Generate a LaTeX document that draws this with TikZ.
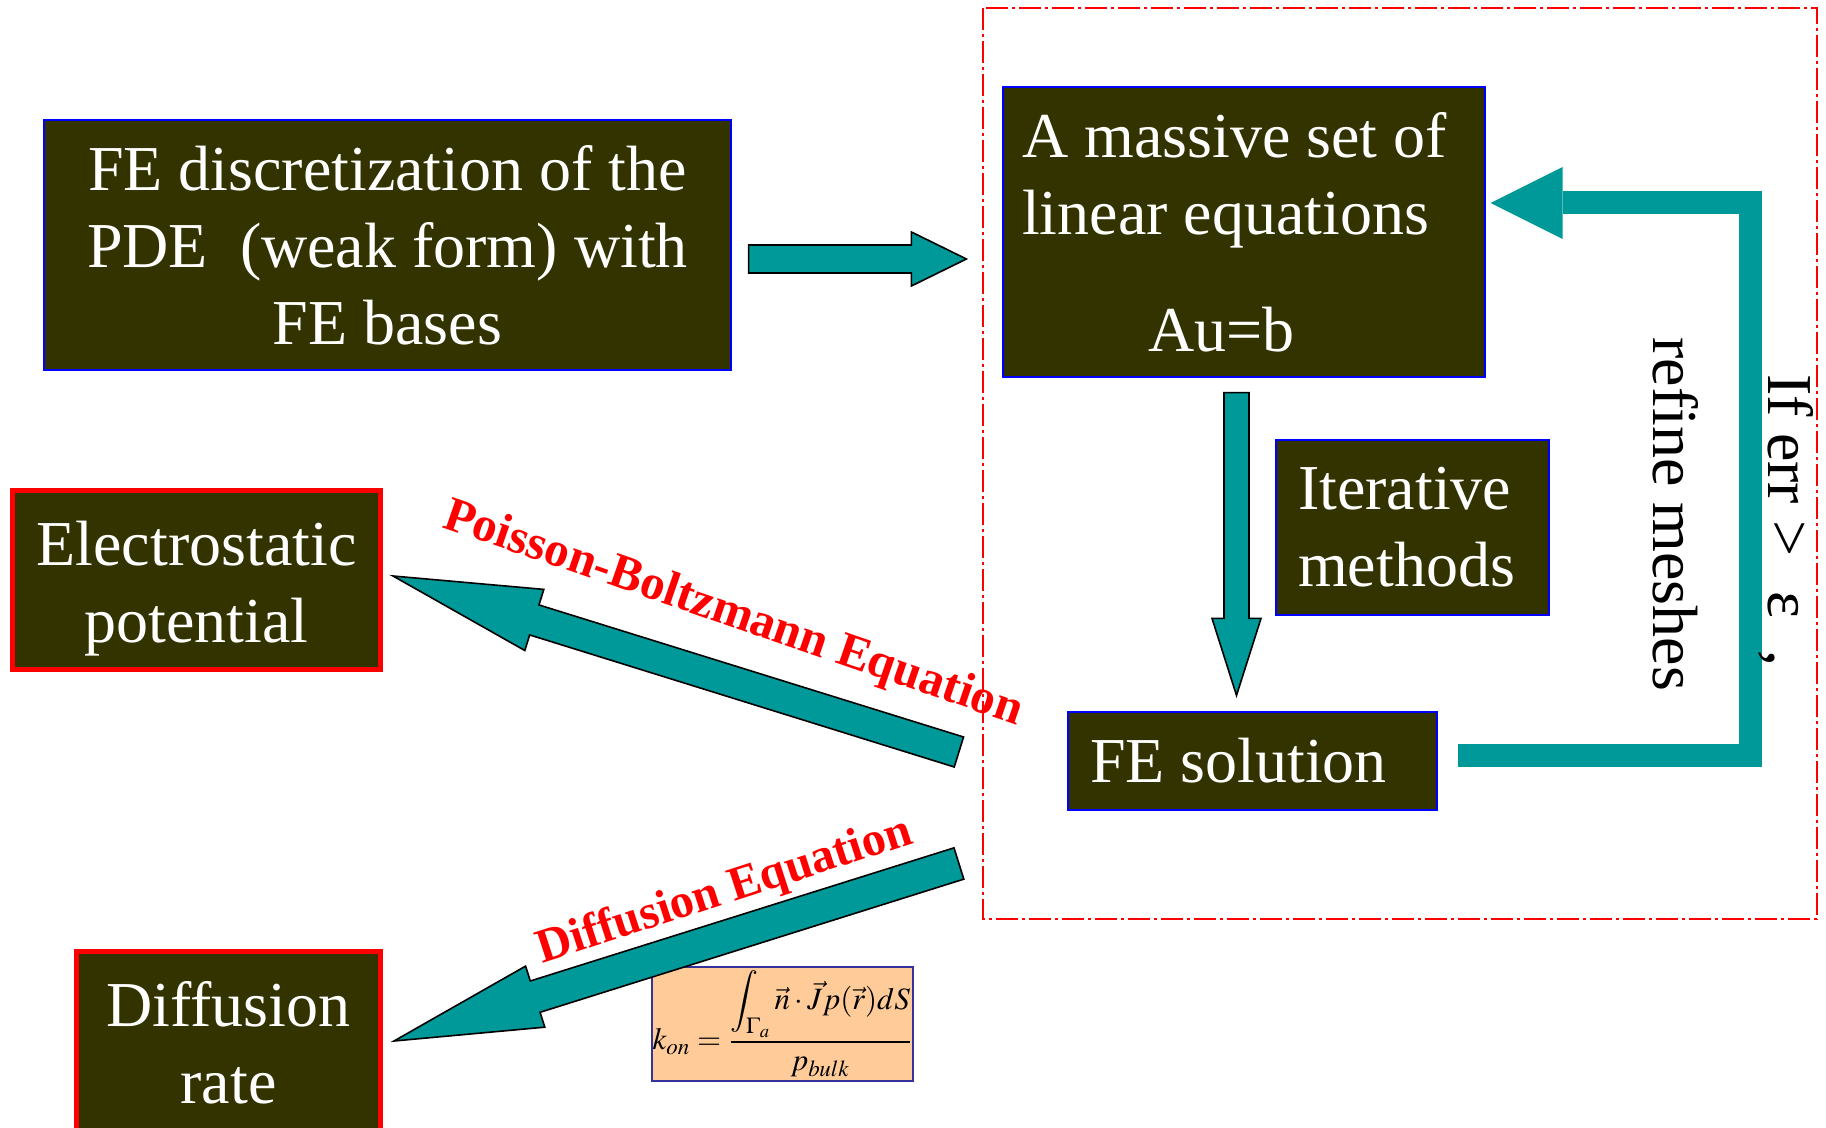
\documentclass[tikz,border=0pt]{standalone}
\usepackage{mathptmx}
\usepackage{fontspec}
\setmainfont{Liberation Serif}
\usetikzlibrary{
  arrows.meta,
  positioning,
  calc
}
\definecolor{feOlive}{HTML}{333300}
\definecolor{feTeal}{HTML}{009999}
\definecolor{feRed}{HTML}{FF0000}
\definecolor{feBlue}{HTML}{0000FF}
\definecolor{fePeach}{HTML}{FFCC99}
\definecolor{feNavy}{HTML}{333399}
\tikzset{
  febox/.style={
    draw=feBlue, line width=0.6pt, fill=feOlive, text=white, inner sep=0pt,
    font=\fontsize{32}{38.5}\selectfont
  },
  resultbox/.style={febox, draw=feRed, line width=2.5pt, align=center},
  formulabox/.style={draw=feNavy, line width=0.8pt, fill=fePeach, inner sep=0pt,
    font=\fontsize{15.5}{18}\selectfont},
  blockarr/.style={fill=feTeal, draw=black, line width=0.8pt, line join=miter},
  loopback/.style={draw=feTeal, line width=11.5pt, line join=miter,
    -{Triangle[length=36pt, width=36pt, line width=0pt]}},
  eqlabel/.style={text=feRed, inner sep=0pt, font=\fontsize{24}{28}\selectfont\bfseries},
  sidenote/.style={inner sep=0pt, rotate=-90, anchor=base west, font=\fontsize{32}{38}\selectfont},
  zone/.style={draw=feRed, line width=1pt, dash pattern=on 11pt off 2pt on 1.5pt off 2pt}
}
% block arrow: [opts]{from}{to}{half shaft}{half head}{head length}
\newcommand{\blockarrow}[6][]{%
  \coordinate (ba neck) at ($(#3)!#6!(#2)$);
  \draw[blockarr,#1] ($(#2)!#4!90:(#3)$) -- ($(ba neck)!#4!90:(#3)$)
    -- ($(ba neck)!#5!90:(#3)$) -- (#3) -- ($(ba neck)!#5!-90:(#3)$)
    -- ($(ba neck)!#4!-90:(#3)$) -- ($(#2)!#4!-90:(#3)$) -- cycle;
}

\begin{document}
\begin{tikzpicture}[x=0.5pt, y=-0.5pt]
  \clip (0,0) rectangle (1826,1128);

  % solver loop region
  \draw[zone] (983,8) rectangle (1817,919);

  \node[febox, minimum width=343.5pt, minimum height=125pt, align=center] (disc) at (387.5,245)
    {FE discretization of the\\PDE\ \ (weak form) with\\FE bases};
  \node[febox, minimum width=241pt, minimum height=145pt, text width=222pt, align=flush left] (lin) at (1244,232)
    {A massive set of\\linear equations\\[20pt]\hspace*{63pt}Au=b};
  \node[febox, minimum width=136.5pt, minimum height=87.5pt, text width=114.5pt, align=flush left] (iter) at (1412.5,527.5)
    {Iterative\\methods};
  \node[febox, minimum width=184.5pt, minimum height=49pt, text width=162.5pt, align=flush left] (sol) at (1252.5,761)
    {FE solution};
  \node[resultbox, minimum width=184pt, minimum height=89.5pt] (elec) at (196.5,580)
    {\rule{0pt}{31pt}Electrostatic\\potential};
  \node[resultbox, minimum width=152pt, minimum height=91.5pt] (rate) at (228.5,1043) {Diffusion\\rate};
  \node[formulabox, minimum width=130.5pt, minimum height=57pt] (kon) at (782.5,1024)
    {$\displaystyle k_{on}=\frac{\displaystyle\int_{\Gamma_a}\vec{n}\cdot\vec{J}p(\vec{r})dS}{p_{bulk}}$};

  % arrows
  \coordinate (r0) at ($(disc.east)+(17,14)$);
  \coordinate (r1) at ($(r0 -| lin.west)+(-36,0)$);
  \blockarrow{r0}{r1}{7pt}{13.5pt}{27.5pt}

  \coordinate (d0) at ($(lin.south)+(-7.5,15)$);
  \coordinate (d1) at ($(d0 |- sol.north)+(0,-16)$);
  \blockarrow{d0}{d1}{6.25pt}{12.25pt}{38.5pt}

  \coordinate (pb0) at ($(sol.west)+(-108.5,-9)$);
  \coordinate (pb1) at ($(elec.east)+(10,-4)$);
  \blockarrow{pb0}{pb1}{7.85pt}{16pt}{74pt}

  \coordinate (df0) at ($(sol.west)+(-108.5,102.5)$);
  \coordinate (df1) at ($(rate.east)+(11,-2)$);
  \blockarrow{df0}{df1}{8.2pt}{16pt}{74pt}

  \coordinate (fb out) at ($(sol.east)+(20,-6)$);
  \coordinate (fb in) at ($(lin.east)+(5,-29)$);
  \draw[loopback] (fb out) -| ($(fb in)+(260,0)$) -- (fb in);

  % labels
  \node[eqlabel, rotate=-19, font=\fontsize{24.5}{28}\selectfont\bfseries] (pblabel) at (733,615) {Poisson-Boltzmann Equation};
  \node[eqlabel, rotate=18] (dflabel) at (725,892) {Diffusion Equation};
  \node[sidenote] (cond) at (1768,374) {If err >\hspace{0.3em} ε\hspace{0.25em} ,};
  \node[sidenote] (refine) at (1653,337) {refine meshes};
\end{tikzpicture}
\end{document}
